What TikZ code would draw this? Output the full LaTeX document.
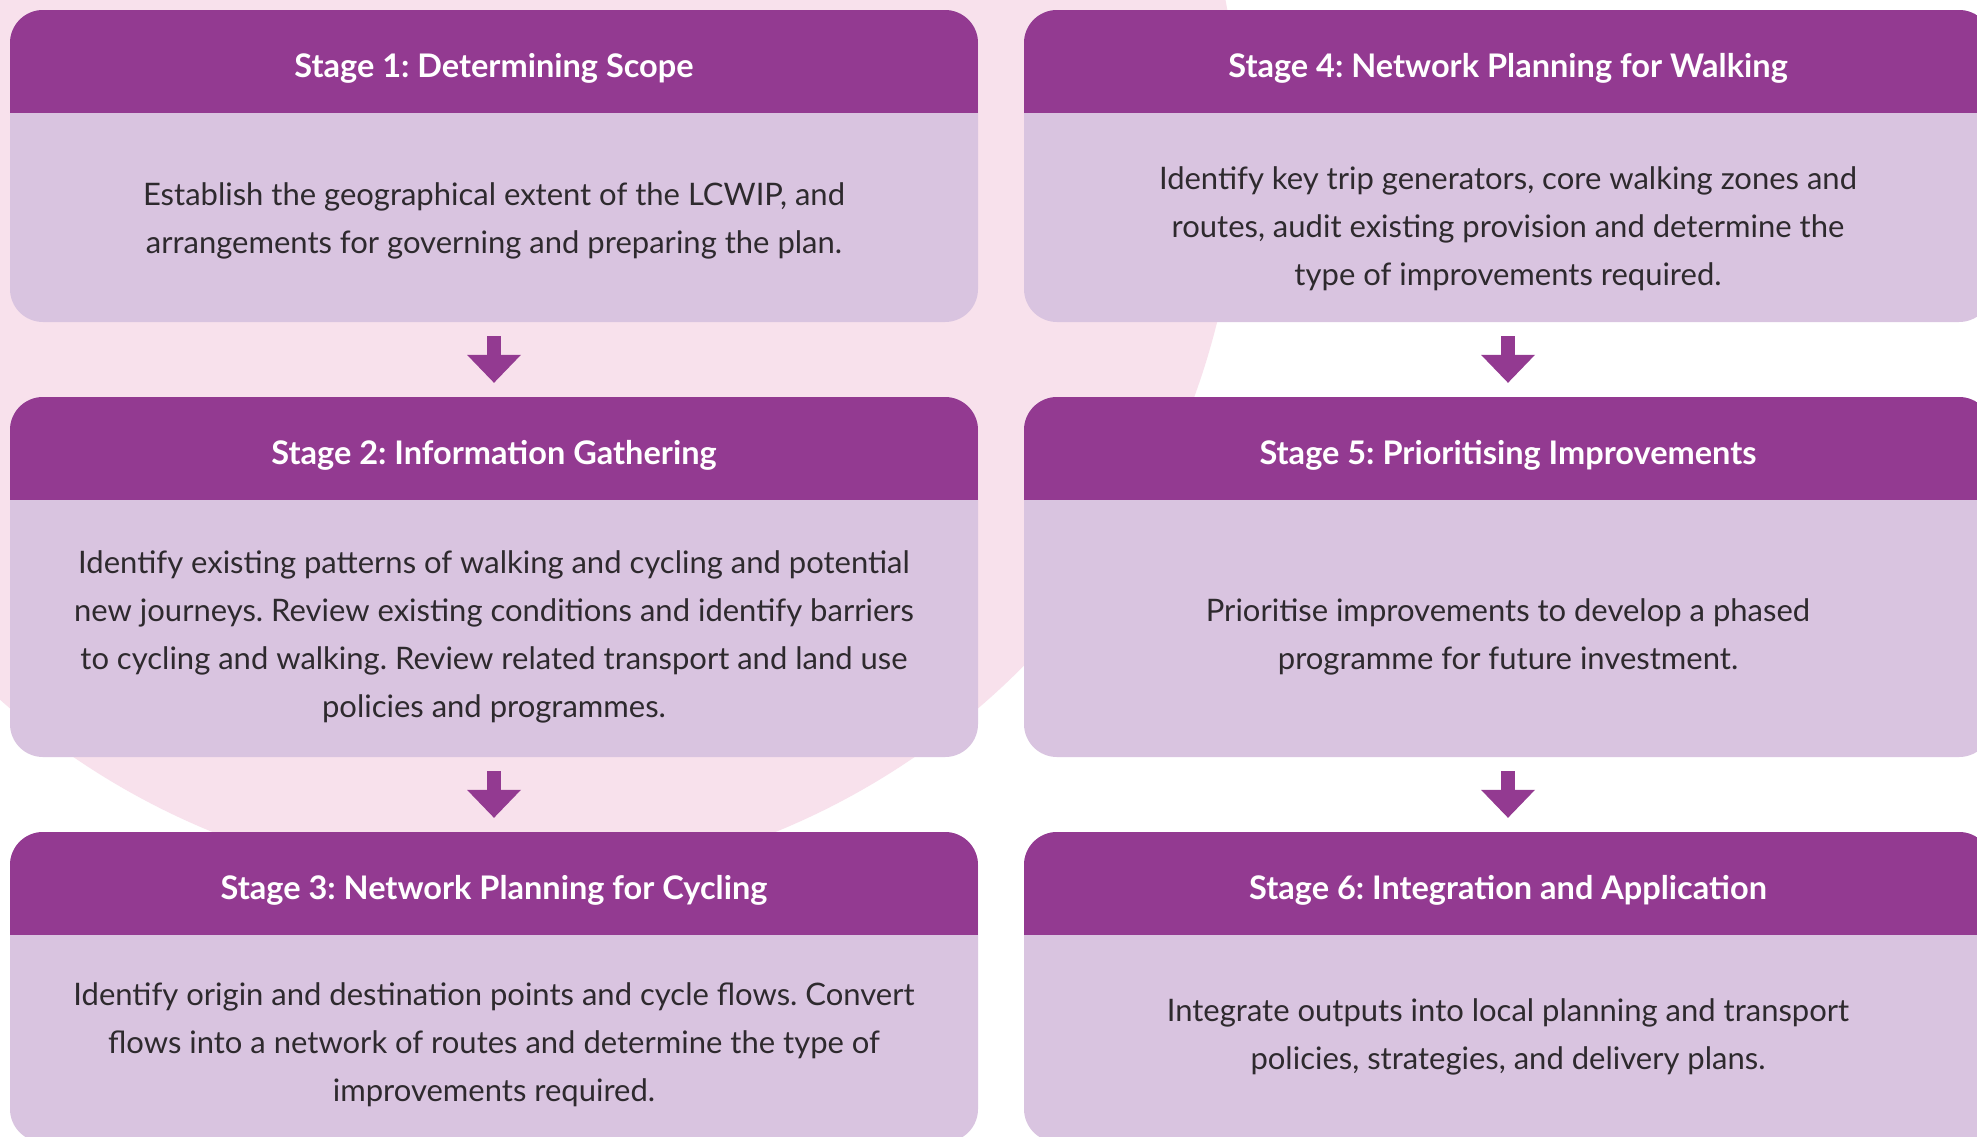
\documentclass[tikz,border=0pt]{standalone}
\usepackage{fontspec}
\setmainfont{Lato}
\usetikzlibrary{arrows.meta}
\definecolor{headpurple}{HTML}{933A91}
\definecolor{bodylilac}{HTML}{D9C4E0}
\definecolor{blushpink}{HTML}{F8E1EC}
\definecolor{inkgrey}{HTML}{2E2A2E}
\frenchspacing

\begin{document}
\begin{tikzpicture}[x=1pt, y=-1pt,
    stage/.style={rectangle, rounded corners=33pt, fill=bodylilac,
        minimum width=968pt, inner sep=0pt,
        path picture={\fill[headpurple, sharp corners] (path picture bounding box.north west)
            rectangle ([yshift=-103pt]path picture bounding box.north east);}},
    title/.style={text=white, font=\bfseries\fontsize{32.5}{38}\selectfont},
    desc/.style={text=inkgrey, align=center, font=\fontsize{31}{48}\selectfont},
    flow/.style={draw=headpurple, line width=14pt,
        -{Triangle[length=28pt, width=54pt, line width=0pt]}}
]
    \fill[white] (0,0) rectangle (1977,1136);
    \useasboundingbox (0,0) rectangle (1977,1136);
    \fill[blushpink] (494,142) circle (745);

    % left column
    \node[stage, minimum height=312pt] (s1) at (494,166) {};
    \node[stage, minimum height=360pt] (s2) at (494,577) {};
    \node[stage, minimum height=310pt] (s3) at (494,987) {};
    % right column
    \node[stage, minimum height=312pt] (s4) at (1508,166) {};
    \node[stage, minimum height=360pt] (s5) at (1508,577) {};
    \node[stage, minimum height=310pt] (s6) at (1508,987) {};

    \node[title] (t1) at ([yshift=-59pt]s1.north) {Stage 1: Determining Scope};
    \node[title] (t2) at ([yshift=-59pt]s2.north) {Stage 2: Information Gathering};
    \node[title] (t3) at ([yshift=-59pt]s3.north) {Stage 3: Network Planning for Cycling};
    \node[title] (t4) at ([yshift=-59pt]s4.north) {Stage 4: Network Planning for Walking};
    \node[title] (t5) at ([yshift=-59pt]s5.north) {Stage 5: Prioritising Improvements};
    \node[title] (t6) at ([yshift=-59pt]s6.north) {Stage 6: Integration and Application};

    \node[desc] (d1) at (494,221) {Establish the geographical extent of the LCWIP, and\\
        arrangements for governing and preparing the plan.};
    \node[desc] (d2) at (494,637) {Identify existing patterns of walking and cycling and potential\\
        new journeys. Review existing conditions and identify barriers\\
        to cycling and walking. Review related transport and land use\\
        policies and programmes.};
    \node[desc] (d3) at (494,1045) {Identify origin and destination points and cycle flows. Convert\\
        flows into a network of routes and determine the type of\\
        improvements required.};
    \node[desc] (d4) at (1508,229) {Identify key trip generators, core walking zones and\\
        routes, audit existing provision and determine the\\
        type of improvements required.};
    \node[desc] (d5) at (1508,637) {Prioritise improvements to develop a phased\\
        programme for future investment.};
    \node[desc] (d6) at (1508,1037) {Integrate outputs into local planning and transport\\
        policies, strategies, and delivery plans.};

    \draw[flow] ([yshift=-14pt]s1.south) -- ([yshift=14pt]s2.north);
    \draw[flow] ([yshift=-14pt]s2.south) -- ([yshift=14pt]s3.north);
    \draw[flow] ([yshift=-14pt]s4.south) -- ([yshift=14pt]s5.north);
    \draw[flow] ([yshift=-14pt]s5.south) -- ([yshift=14pt]s6.north);
\end{tikzpicture}
\end{document}
